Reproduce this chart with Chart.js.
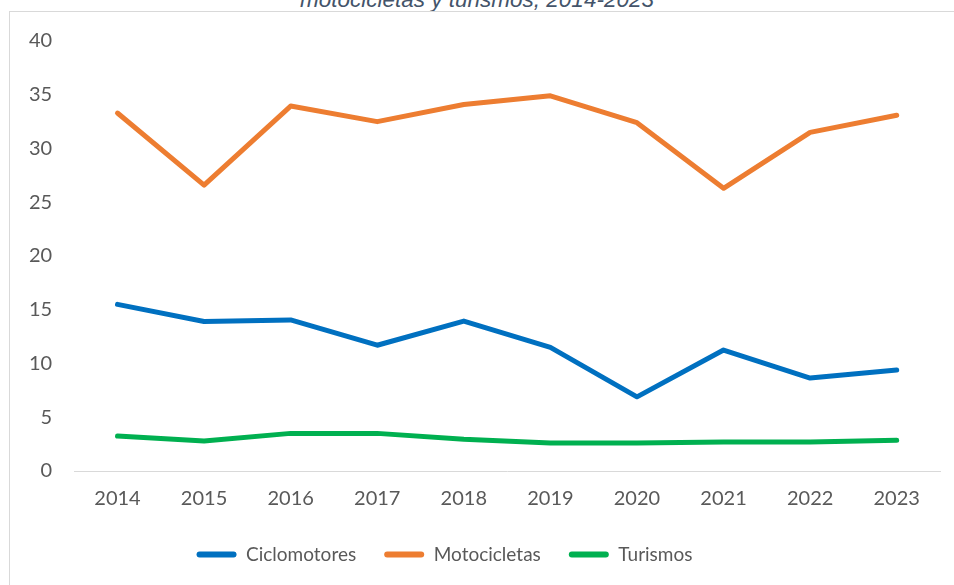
<!DOCTYPE html>
<html>
<head>
<meta charset="utf-8">
<script src="https://cdn.jsdelivr.net/npm/chart.js@4.4.1/dist/chart.umd.min.js"></script>
<style>
  html, body { margin:0; padding:0; background:#fff; overflow:hidden; }
  #wrap { position:absolute; left:0; top:0; width:954px; height:585px; }
  #frame { position:absolute; left:9px; top:11px; width:980px; height:600px; border-left:1px solid #d9d9d9; border-top:1px solid #d9d9d9; }
  #title { position:absolute; left:0; width:954px; top:-12px; text-align:center; font-family:"Liberation Sans", Arial, sans-serif; font-style:italic; font-size:22.5px; line-height:24px; color:#44546A; }
</style>
</head>
<body>
<div id="wrap">
  <div id="title">motocicletas y turismos, 2014-2023</div>
  <div id="frame"></div>
  <canvas id="c" width="954" height="585" style="position:absolute;left:0;top:0;width:954px;height:585px"></canvas>
</div>
<script>
const categories = ["2014","2015","2016","2017","2018","2019","2020","2021","2022","2023"];
const ciclomotores = [15.5, 13.9, 14.05, 11.7, 13.95, 11.5, 6.9, 11.25, 8.65, 9.4];
const motocicletas = [33.3, 26.6, 33.95, 32.5, 34.1, 34.9, 32.4, 26.3, 31.5, 33.1];
const turismos = [3.25, 2.8, 3.5, 3.5, 2.95, 2.6, 2.6, 2.7, 2.7, 2.85];
const seriesNames = ["Ciclomotores","Motocicletas","Turismos"];
const colors = ["#0070C0","#ED7D31","#00B050"];

const font = { family: "Lato, 'Open Sans', sans-serif", size: 20 };
const legendFont = { family: "Lato, 'Open Sans', sans-serif", size: 19 };
const textColor = "#595959";

// widen the gaps between legend items without making the legend taller
const legendTweak = {
  id: 'legendTweak',
  afterLayout(chart) {
    const lg = chart.legend;
    if (!lg) return;
    lg.options.labels.padding = 28;
    lg.top -= 10;
    lg.bottom -= 10;
    lg.left -= 47;
    lg.right -= 47;
  }
};

new Chart(document.getElementById('c'), {
  type: 'line',
  data: {
    labels: categories,
    datasets: [ciclomotores, motocicletas, turismos].map((d, i) => ({
      label: seriesNames[i],
      data: d,
      borderColor: colors[i],
      backgroundColor: colors[i],
      borderWidth: 5,
      borderCapStyle: 'round',
      borderJoinStyle: 'round',
      pointRadius: 0,
      pointHoverRadius: 0,
      tension: 0,
      fill: false
    }))
  },
  plugins: [legendTweak],
  options: {
    responsive: false,
    animation: false,
    events: [],
    layout: { padding: { left: 7, right: 14, top: 41, bottom: 13 } },
    plugins: {
      tooltip: { enabled: false },
      title: { display: false },
      legend: {
        position: 'bottom',
        labels: {
          font: legendFont,
          color: textColor,
          boxWidth: 40,
          boxHeight: 6,
          padding: 16,
          generateLabels: (chart) => chart.data.datasets.map((ds, i) => ({
            text: ds.label,
            fillStyle: ds.borderColor,
            strokeStyle: ds.borderColor,
            lineWidth: 0,
            borderRadius: 3,
            fontColor: textColor,
            datasetIndex: i,
            hidden: false
          }))
        }
      }
    },
    scales: {
      x: {
        offset: true,
        grid: { display: false, drawTicks: false },
        border: { display: true, color: '#d9d9d9', width: 1 },
        ticks: { font: font, color: textColor, padding: 16, maxRotation: 0 }
      },
      y: {
        min: 0, max: 40,
        grid: { display: false, drawTicks: false },
        border: { display: false },
        ticks: { stepSize: 5, font: font, color: textColor, padding: 22 }
      }
    }
  }
});
</script>
</body>
</html>
